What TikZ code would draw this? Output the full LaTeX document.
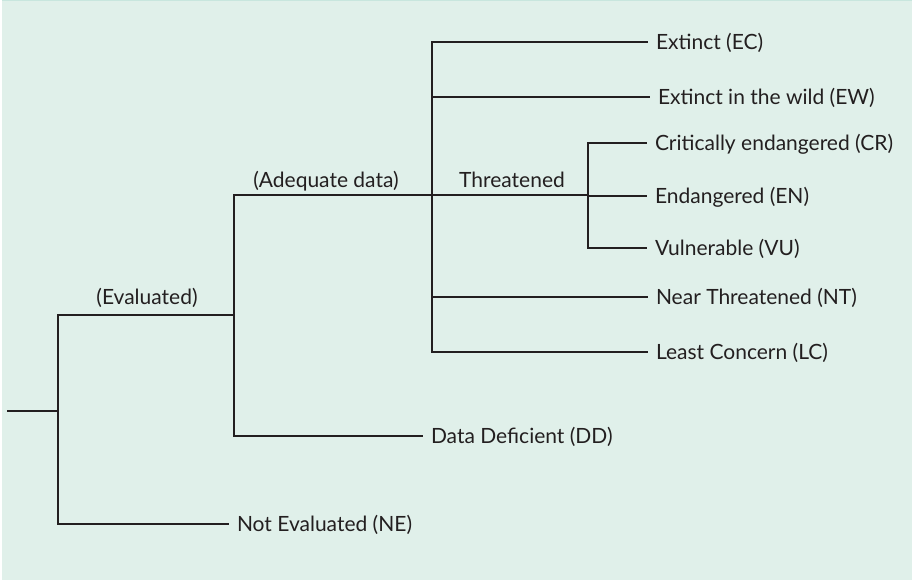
\documentclass[tikz,border=0pt]{standalone}
\usepackage{fontspec}
\setmainfont{Lato}
\begin{document}
\begin{tikzpicture}[x=1pt,y=-1pt,
  edge/.style={draw={rgb,255:red,35;green,31;blue,32},line width=2.2pt},
  leaf/.style={inner xsep=8pt,inner ysep=0pt,outer sep=0pt,anchor=west,yshift=-1pt,text={rgb,255:red,35;green,31;blue,32},font=\fontsize{21}{25.2}\selectfont},
  tag/.style={inner sep=0pt,outer sep=0pt,anchor=base,text={rgb,255:red,35;green,31;blue,32},font=\fontsize{21}{25.2}\selectfont}]
\path[use as bounding box] (0,0) rectangle (912,580);
\path[fill={rgb,255:red,224;green,240;blue,234}] (2,0) rectangle (912,580);
\draw[draw={rgb,255:red,200;green,230;blue,222},line width=1pt] (2,0.5) -- (912,0.5);
% branch points
\coordinate (start) at (7,411);
\coordinate (evaluated) at (58,411);
\coordinate (adequate) at (234,315);
\coordinate (assessed) at (432,195);
\coordinate (threatened) at (588,195);
% categories
\node[leaf] (ec) at (648,42) {Extinct (EC)};
\node[leaf] (ew) at (650,97) {Extinct in the wild (EW)};
\node[leaf] (cr) at (647,143) {Critically endangered (CR)};
\node[leaf] (en) at (647,196) {Endangered (EN)};
\node[leaf] (vu) at (647,248) {Vulnerable (VU)};
\node[leaf] (nt) at (648,297) {Near Threatened (NT)};
\node[leaf] (lc) at (648,352) {Least Concern (LC)};
\node[leaf] (dd) at (423,436) {Data Deficient (DD)};
\node[leaf] (ne) at (229,524) {Not Evaluated (NE)};
% branch labels
\node[tag] (lbleval) at (147,304) {(Evaluated)};
\node[tag] (lbladeq) at (326,187) {(Adequate data)};
\node[tag] (lblthr) at (512,187) {Threatened};
% tree
\draw[edge] (start) -- (evaluated);
\draw[edge] (evaluated) |- (adequate);
\draw[edge] (evaluated) |- ([yshift=1pt]ne.west);
\draw[edge] (adequate) |- (assessed);
\draw[edge] (adequate) |- ([yshift=1pt]dd.west);
\draw[edge] (assessed) |- ([yshift=1pt]ec.west);
\draw[edge] (assessed) |- ([yshift=1pt]ew.west);
\draw[edge] (assessed) |- ([yshift=1pt]nt.west);
\draw[edge] (assessed) |- ([yshift=1pt]lc.west);
\draw[edge] (assessed) -- (threatened);
\draw[edge] (threatened) |- ([yshift=1pt]cr.west);
\draw[edge] (threatened) |- ([yshift=1pt]en.west);
\draw[edge] (threatened) |- ([yshift=1pt]vu.west);
\end{tikzpicture}
\end{document}
